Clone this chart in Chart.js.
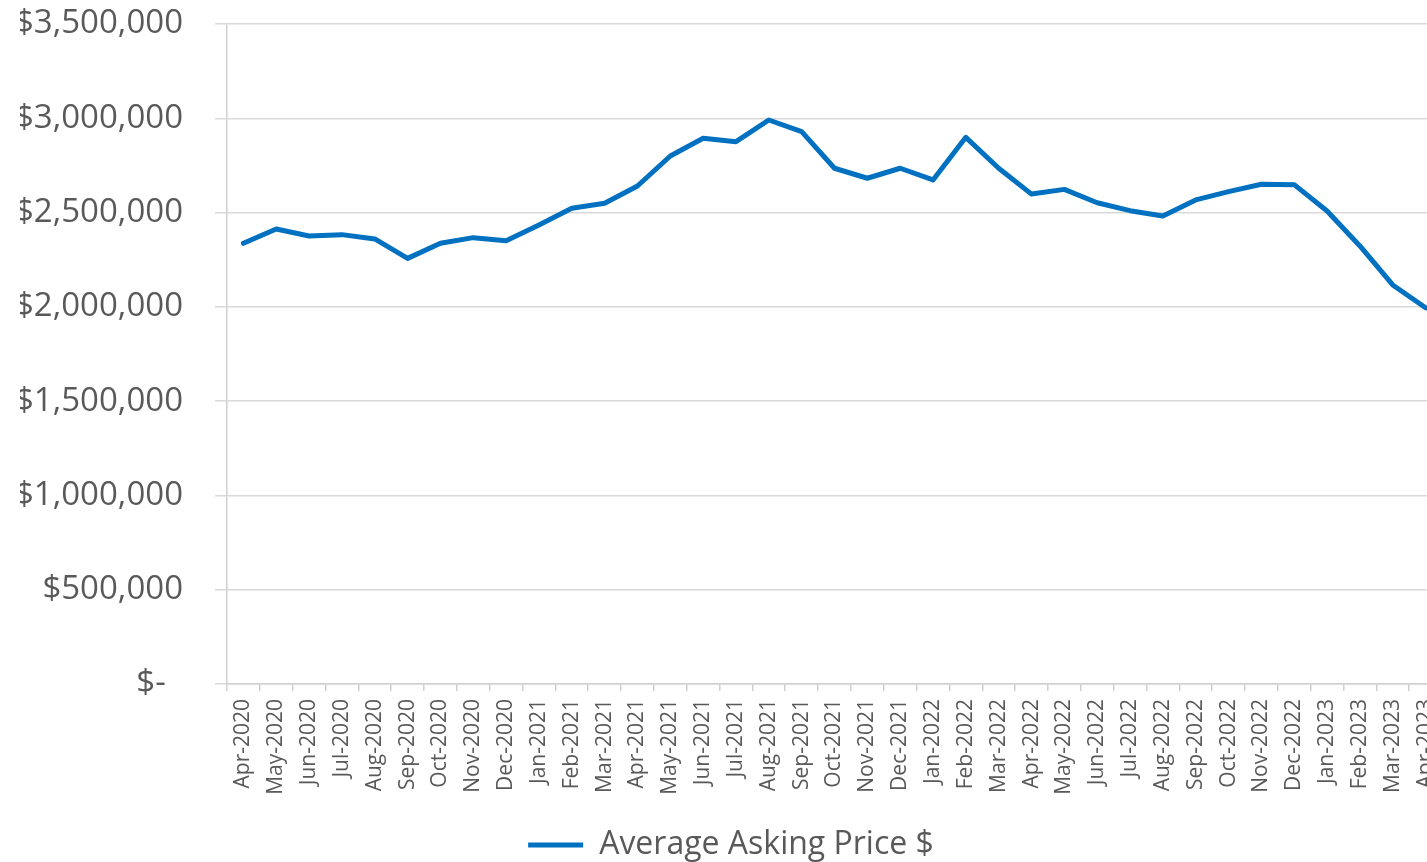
<!DOCTYPE html>
<html>
<head>
<meta charset="utf-8">
<script src="https://cdn.jsdelivr.net/npm/chart.js@4.4.1/dist/chart.umd.min.js"></script>
<style>
  html, body { margin: 0; padding: 0; overflow: hidden; background: #ffffff; width: 1427px; height: 862px; }
  #wrap { position: absolute; left: 0; top: 0; width: 1442px; height: 871px; }
</style>
</head>
<body>
<div id="wrap"><canvas id="c" width="1442" height="871"></canvas></div>
<script>
const categories = [
  'Apr-2020','May-2020','Jun-2020','Jul-2020','Aug-2020','Sep-2020','Oct-2020','Nov-2020','Dec-2020',
  'Jan-2021','Feb-2021','Mar-2021','Apr-2021','May-2021','Jun-2021','Jul-2021','Aug-2021','Sep-2021',
  'Oct-2021','Nov-2021','Dec-2021','Jan-2022','Feb-2022','Mar-2022','Apr-2022','May-2022','Jun-2022',
  'Jul-2022','Aug-2022','Sep-2022','Oct-2022','Nov-2022','Dec-2022','Jan-2023','Feb-2023','Mar-2023','Apr-2023'
];
const seriesName = 'Average Asking Price $';
const askingPrice = [
  2337000, 2413000, 2376000, 2383000, 2360000, 2257000, 2337000, 2367000, 2351000,
  2434000, 2523000, 2549000, 2641000, 2800000, 2894000, 2876000, 2991000, 2929000,
  2735000, 2682000, 2735000, 2673000, 2899000, 2735000, 2598000, 2623000, 2552000,
  2510000, 2482000, 2567000, 2611000, 2650000, 2648000, 2508000, 2323000, 2116000, 1995000
];
const yTickMin = 0;
const yTickMax = 3500000;
const yTickStep = 500000;

const textColor = '#595959';
const gridColor = '#d9d9d9';
const axisColor = '#d0d0d0';

Chart.defaults.font.family = "'Open Sans', 'DejaVu Sans', sans-serif";
Chart.defaults.color = textColor;

new Chart(document.getElementById('c'), {
  type: 'line',
  data: {
    labels: categories,
    datasets: [{
      label: seriesName,
      data: askingPrice,
      borderColor: '#0070C0',
      backgroundColor: '#0070C0',
      borderWidth: 5,
      pointRadius: 0,
      pointHoverRadius: 0,
      tension: 0,
      borderJoinStyle: 'round',
      borderCapStyle: 'round',
      fill: false
    }]
  },
  options: {
    responsive: false,
    devicePixelRatio: 1,
    animation: false,
    layout: { padding: { left: 20, right: 0, top: 24, bottom: 0 } },
    plugins: {
      tooltip: { enabled: false },
      legend: {
        position: 'bottom',
        align: 'center',
        labels: {
          usePointStyle: true,
          pointStyle: 'line',
          pointStyleWidth: 55,
          padding: 0,
          color: textColor,
          font: { size: 32 }
        }
      }
    },
    scales: {
      x: {
        offset: true,
        grid: {
          display: true,
          offset: true,
          drawOnChartArea: false,
          drawTicks: true,
          tickLength: 7,
          color: axisColor,
          lineWidth: 1.5
        },
        border: { display: true, color: axisColor, width: 1.5 },
        ticks: {
          autoSkip: false,
          minRotation: 90,
          maxRotation: 90,
          padding: 8,
          color: textColor,
          font: { size: 21 }
        },
        afterFit: (s) => { s.height = 145; s.paddingLeft = 0; s.paddingRight = 0; }
      },
      y: {
        min: yTickMin,
        max: yTickMax,
        grid: {
          color: gridColor,
          lineWidth: 1.5,
          drawTicks: true,
          tickLength: 12
        },
        border: { display: true, color: axisColor, width: 1.5 },
        ticks: {
          stepSize: yTickStep,
          padding: 32,
          color: textColor,
          font: { size: 33 },
          callback: (v) => v === 0 ? '$-  ' : '$' + Number(v).toLocaleString('en-US')
        },
        afterFit: (s) => { s.width = 207; s.paddingTop = 0; s.paddingBottom = 0; }
      }
    }
  }
});
</script>
</body>
</html>
